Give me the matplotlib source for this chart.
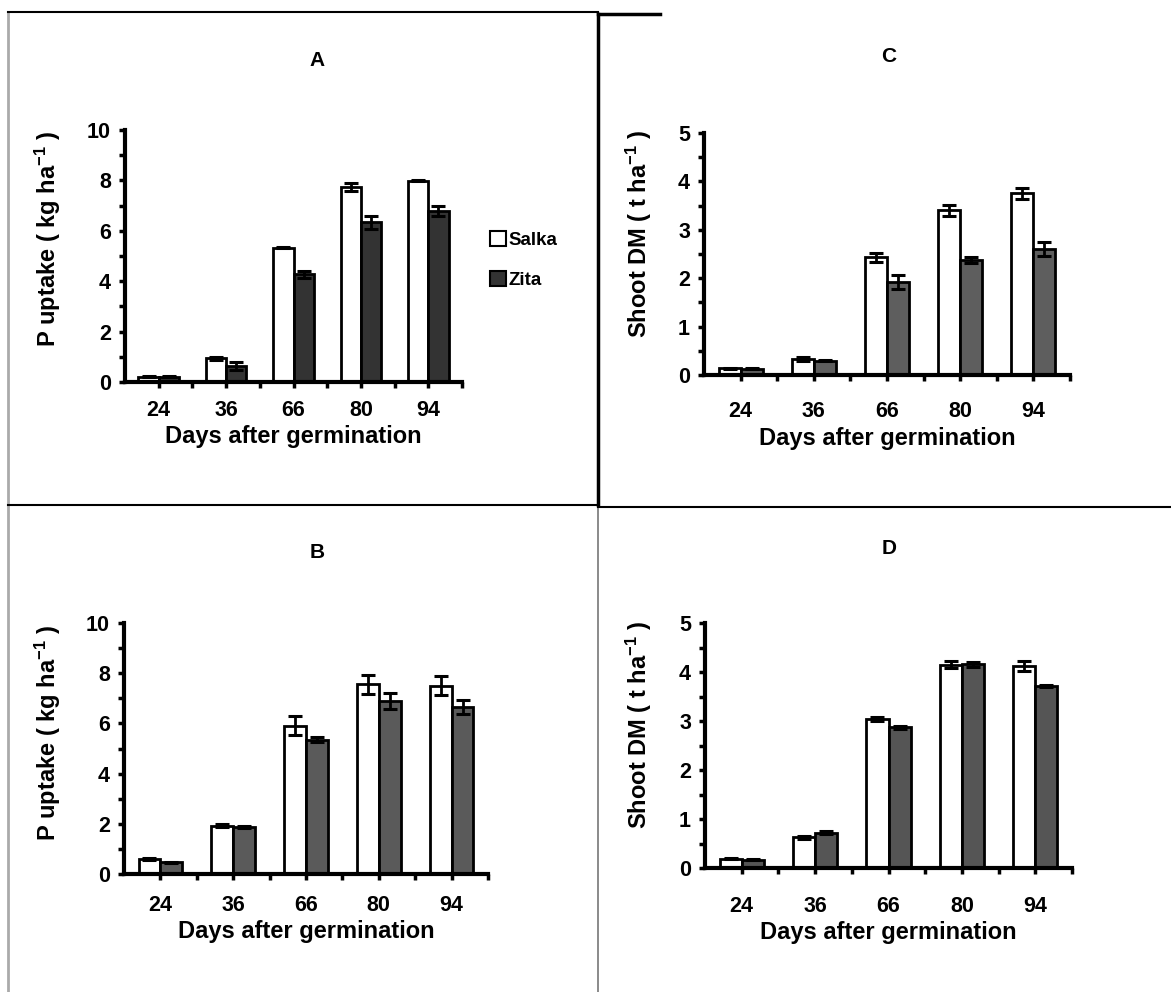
import numpy as np
import matplotlib
matplotlib.use('Agg')
import matplotlib.pyplot as plt
from matplotlib.lines import Line2D
from matplotlib.patches import Patch

plt.rcParams['font.family'] = ['Liberation Sans', 'DejaVu Sans']
plt.rcParams['font.weight'] = 'bold'
plt.rcParams['mathtext.fontset'] = 'custom'
plt.rcParams['mathtext.rm'] = 'Liberation Sans:bold'
plt.rcParams['mathtext.default'] = 'rm'

days = ['24', '36', '66', '80', '94']
cultivars = ['Salka', 'Zita']

# panel A: P uptake, first experiment
a_salka = [0.20, 0.94, 5.33, 7.75, 7.99]
a_salka_err = [0.02, 0.05, 0.02, 0.16, 0.03]
a_zita = [0.20, 0.65, 4.27, 6.33, 6.79]
a_zita_err = [0.02, 0.16, 0.15, 0.25, 0.20]

# panel C: shoot DM, first experiment
c_salka = [0.14, 0.33, 2.43, 3.40, 3.75]
c_salka_err = [0.01, 0.05, 0.10, 0.11, 0.12]
c_zita = [0.13, 0.29, 1.92, 2.38, 2.60]
c_zita_err = [0.01, 0.01, 0.15, 0.06, 0.15]

# panel B: P uptake, second experiment
b_salka = [0.60, 1.93, 5.91, 7.55, 7.50]
b_salka_err = [0.03, 0.06, 0.38, 0.37, 0.38]
b_zita = [0.46, 1.87, 5.34, 6.89, 6.66]
b_zita_err = [0.02, 0.03, 0.10, 0.33, 0.27]

# panel D: shoot DM, second experiment
d_salka = [0.19, 0.63, 3.05, 4.15, 4.13]
d_salka_err = [0.01, 0.03, 0.04, 0.07, 0.10]
d_zita = [0.17, 0.72, 2.87, 4.16, 3.72]
d_zita_err = [0.01, 0.03, 0.03, 0.05, 0.02]

W, H = 1171, 992
fig = plt.figure(figsize=(W / 100, H / 100), dpi=100)


def px_axes(l, r, b, t):
    return fig.add_axes([l / W, 1 - b / H, (r - l) / W, (b - t) / H])


def panel(ax, title, tx, ty, s, se, z, ze, zcol, ymax, ystep, ylabel, lx, ly,
          xpad):
    x = np.arange(len(days))
    w = 0.3
    ekw = dict(elinewidth=2, capthick=2.2, ecolor='black')
    ax.bar(x - w / 2, s, w, yerr=se, color='white', edgecolor='black',
           linewidth=2, capsize=5, error_kw=ekw)
    ax.bar(x + w / 2, z, w, yerr=ze, color=zcol, edgecolor='black',
           linewidth=2, capsize=5, error_kw=ekw)
    ax.set_xlim(-0.5, len(days) - 0.5)
    ax.set_ylim(0, ymax)
    ax.set_xticks(x)
    ax.set_xticklabels(days)
    ax.set_xticks(np.arange(0.5, len(days), 1), minor=True)
    ax.set_yticks(np.arange(0, ymax + 0.01, ystep))
    ax.set_yticks(np.arange(ystep / 2, ymax, ystep), minor=True)
    ax.set_yticklabels([('%g' % v) for v in np.arange(0, ymax + 0.01, ystep)])
    for sp in ['top', 'right']:
        ax.spines[sp].set_visible(False)
    for sp in ['left', 'bottom']:
        ax.spines[sp].set_linewidth(3)
    ax.tick_params(which='both', direction='out', length=4, width=2.5,
                   labelsize=15.5, pad=6)
    ax.tick_params(axis='x', which='major', pad=xpad)
    ax.set_xlabel('Days after germination', fontsize=17, fontweight='bold',
                  labelpad=3)
    ax.set_ylabel(ylabel, fontsize=17, fontweight='bold')
    ax.yaxis.set_label_coords(lx / W, 1 - ly / H, transform=fig.transFigure)
    fig.text(tx / W, 1 - ty / H, title, ha='center', va='center',
             fontsize=15, fontweight='bold')
    return ax


ylab_p = 'P uptake ( kg ha$^{-1}$ )'
ylab_s = 'Shoot DM ( t ha$^{-1}$ )'

axA = px_axes(125, 462, 382, 130)
panel(axA, 'A', 317, 60, a_salka, a_salka_err, a_zita, a_zita_err, '#333333',
      10, 2, ylab_p, 63, 239, 9)
axC = px_axes(704, 1070, 375, 133)
panel(axC, 'C', 889, 57, c_salka, c_salka_err, c_zita, c_zita_err, '#5e5e5e',
      5, 1, ylab_s, 654, 234, 15)
axB = px_axes(124, 488, 874, 623)
panel(axB, 'B', 317, 552, b_salka, b_salka_err, b_zita, b_zita_err, '#5a5a5a',
      10, 2, ylab_p, 63, 733, 11)
axD = px_axes(705, 1072, 868, 623)
panel(axD, 'D', 889, 548, d_salka, d_salka_err, d_zita, d_zita_err, '#555555',
      5, 1, ylab_s, 654, 725, 16)

handles = [Patch(facecolor='white', edgecolor='black', linewidth=1.5),
           Patch(facecolor='#333333', edgecolor='black', linewidth=1.5)]
fig.legend(handles, cultivars, loc='upper left',
           bbox_to_anchor=(473 / W, 1 - 214 / H), frameon=False,
           handlelength=0.85, handleheight=0.85, handletextpad=0.15,
           labelspacing=1.2, prop={'size': 13.5, 'weight': 'bold'})

# panel frame lines
def fline(x0, y0, x1, y1, color='black', lw=1.5):
    fig.add_artist(Line2D([x0 / W, x1 / W], [1 - y0 / H, 1 - y1 / H],
                          color=color, linewidth=lw))

fline(8, 12, 8, 992, color='#aaaaaa', lw=2)
fline(8, 12, 598, 12)
fline(598, 14, 660, 14, lw=2.5)
fline(598, 14, 598, 505, lw=2.5)
fline(598, 505, 598, 992, color='#777777', lw=1.2)
fline(8, 505, 598, 505)
fline(598, 507, 1171, 507)

fig.savefig('out.png', dpi=100)
